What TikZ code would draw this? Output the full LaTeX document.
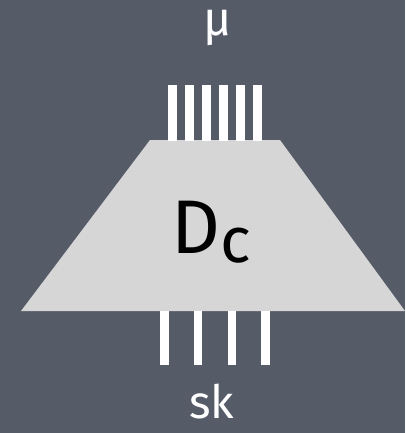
\documentclass[tikz,border=0pt]{standalone}
\usepackage{fontspec}
\setmainfont{Fira Sans}
\usetikzlibrary{positioning}
\definecolor{board}{RGB}{86,91,104}
\definecolor{blockgray}{RGB}{214,214,214}
\newcommand{\bigsize}[1]{\fontsize{#1}{1.2\dimexpr#1\relax}\selectfont}

\begin{document}
\begin{tikzpicture}[x=1pt, y=-1pt,
  wire/.style={draw=white, line width=8.5pt},
  block/.style={fill=blockgray},
  chalk/.style={text=white, inner sep=0pt, anchor=base}]
\fill[board] (0,0) rectangle (405,433);
\useasboundingbox (0,0) rectangle (405,433);
% the decoder block
\fill[block] (150,140) -- (280,140) -- (405,311) -- (21,311) -- cycle;
\node (dc) [chalk, text=black] at (211,253) {\bigsize{76pt}D\raisebox{-9pt}{\bigsize{64pt}c}};
% wires in and out
\foreach \i in {0,...,5} {
  \coordinate (in\i) at (172.5+17*\i,85);
  \coordinate (tin\i) at (172.5+17*\i,140.5);
  \draw[wire] (in\i) -- (tin\i);
}
\foreach \i in {0,...,3} {
  \coordinate (bout\i) at (164.5+33.7*\i,310.5);
  \coordinate (out\i) at (164.5+33.7*\i,365);
  \draw[wire] (bout\i) -- (out\i);
}
\node (mu) [chalk] at (218,36) {\bigsize{48pt}μ};
\node (sk) [chalk] at (212,418) {\bigsize{46pt}sk};
\end{tikzpicture}
\end{document}
